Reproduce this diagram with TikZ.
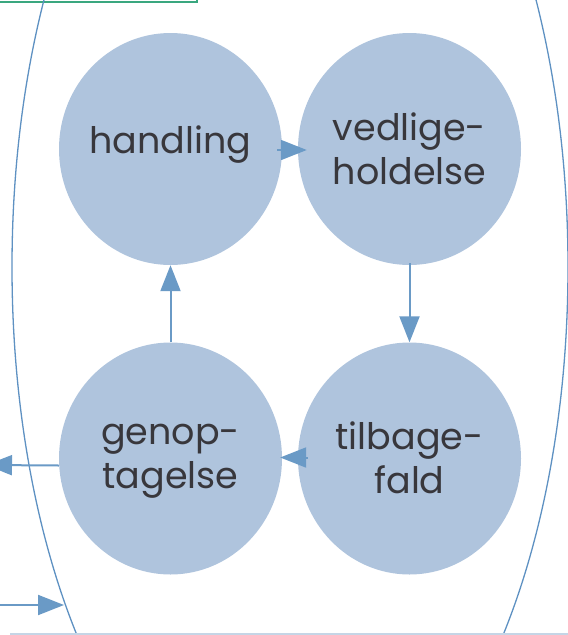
\documentclass[tikz,border=0pt]{standalone}
\usepackage{fontspec}
\setmainfont{Poppins}
\usetikzlibrary{arrows.meta,shapes.geometric}
\definecolor{bub}{HTML}{AFC4DD}
\definecolor{arr}{HTML}{6A9AC6}
\definecolor{lensc}{HTML}{5E91C2}
\definecolor{blinec}{HTML}{C5D5E6}
\definecolor{grn}{HTML}{3AA77F}
\definecolor{txt}{HTML}{38373C}
\tikzset{
  bubble/.style={ellipse, fill=bub, draw=none, minimum width=223pt, minimum height=232pt, inner sep=0pt},
  lbl/.style={text=txt, align=center, inner sep=0pt, font=\fontsize{36.5}{44}\selectfont},
  flow/.style={draw=arr, line width=2pt, -{Triangle[length=26pt,width=20pt]}},
  lens/.style={draw=lensc, line width=1.3pt},
  bline/.style={draw=blinec, line width=1.5pt},
  greenbox/.style={draw=grn, line width=2pt, fill=white}
}
\begin{document}
\begin{tikzpicture}[x=1pt,y=-1pt]
\useasboundingbox (0,0) rectangle (568,635);
\clip (0,0) rectangle (568,635);
\draw[greenbox] (-10,-10) rectangle (197,2);
\draw[lens] (290,267) ellipse [x radius=278, y radius=573];
\draw[bline] (10,634) -- (568,634);
\node[bubble] (h) at (170.5,149) {};
\node[bubble] (v) at (409.5,149) {};
\node[bubble] (t) at (409.5,458.5) {};
\node[bubble] (g) at (170.5,458.5) {};
\node[lbl] (hl) at ([yshift=4pt]h.center) {handling};
\node[lbl] (vl) at ([yshift=0pt]v.center) {vedlige-\\holdelse};
\node[lbl] (tl) at ([yshift=1pt]t.center) {tilbage-\\fald};
\node[lbl] (gl) at ([yshift=-3pt]g.center) {genop-\\tagelse};
\coordinate (outl) at (-14,465);
\coordinate (inb) at (-10,605);
\coordinate (lensb) at (64,605);
\draw[flow] ([xshift=-5pt,yshift=-1pt]h.east) -- ([xshift=9pt,yshift=-1pt]v.west);
\draw[flow] ([yshift=2pt]v.south) -- (t.north);
\draw[flow] ([xshift=10pt,yshift=1pt]t.west) -- ([xshift=-2pt,yshift=1pt]g.east);
\draw[flow] (g.north) -- (h.south);
\draw[flow] ([yshift=-7pt]g.west) -- (outl);
\draw[flow] (inb) -- (lensb);
\end{tikzpicture}
\end{document}
